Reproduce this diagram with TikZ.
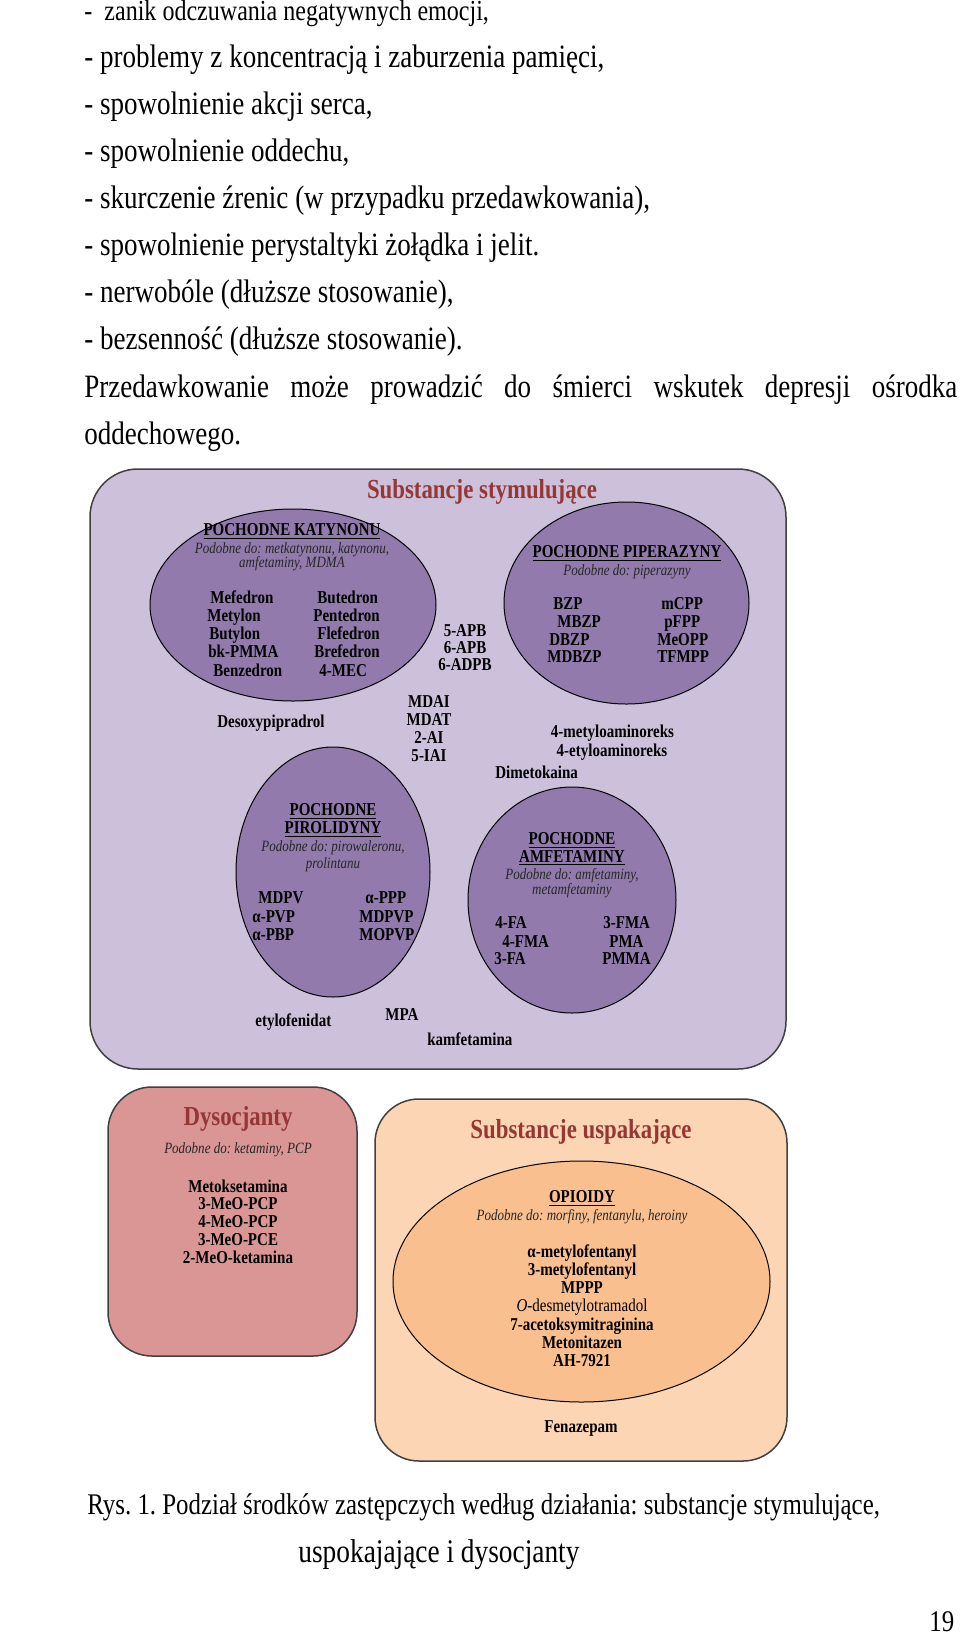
\documentclass[tikz,border=0pt]{standalone}
\usepackage{fontspec}
\setmainfont{Liberation Serif}[FakeStretch=0.829]
\usepackage{graphicx}
\usepackage{tikz}
\usetikzlibrary{shapes.geometric}
\usepackage{xcolor}
\definecolor{StimLilac}{HTML}{CCC0DA}
\definecolor{GroupPurple}{RGB}{146,123,172}
\definecolor{TitleRed}{HTML}{953735}
\definecolor{DissRose}{HTML}{DA9694}
\definecolor{SedPeach}{HTML}{FCD5B4}
\definecolor{OpioidOrange}{HTML}{FABF8F}
\tikzset{
  classbox/.style={draw=black!75, rounded corners=24pt, line width=0.75pt},
  group/.style={ellipse, draw=black, line width=0.5pt, fill=GroupPurple, inner sep=0pt},
  drug/.style={font=\fontsize{9.05}{11}\bfseries, inner sep=0pt},
  heading/.style={font=\fontsize{9.05}{11}\bfseries, inner sep=0pt, anchor=base},
  hint/.style={font=\fontsize{7.85}{9}\itshape, text=black!85, inner sep=0pt, anchor=base},
  classtitle/.style={font=\fontsize{13.75}{16}\bfseries, text=TitleRed, inner sep=0pt, anchor=base},
  bodytext/.style={font=\fontsize{16.3}{19}\selectfont, inner sep=0pt, anchor=base west}
}
\frenchspacing

\begin{document}
\begin{tikzpicture}[x=0.5pt, y=-0.5pt]
  \useasboundingbox (0,0) rectangle (960,1639);
  % text above the figure
  \node[bodytext, font=\fontsize{14.5}{17}\selectfont] (body0) at (84, 20.5) {-\ \ zanik odczuwania negatywnych emocji,};
  \foreach \line [count=\i] in {{- problemy z koncentracją i zaburzenia pamięci,}, {- spowolnienie akcji serca,},
      {- spowolnienie oddechu,}, {- skurczenie źrenic (w przypadku przedawkowania),},
      {- spowolnienie perystaltyki żołądka i jelit.}, {- nerwobóle (dłuższe stosowanie),},
      {- bezsenność (dłuższe stosowanie).}}
    \node[bodytext] (body\i) at (84, 20+47.1*\i) {\line};
  \node[bodytext] (overdose) at (84, 397.3) {\makebox[436.5pt][s]{Przedawkowanie może prowadzić do śmierci wskutek depresji ośrodka}};
  \node[bodytext] (overdose2) at (84, 444.4) {oddechowego.};

  % stimulants
  \node[classbox, fill=StimLilac, minimum width=348pt, minimum height=300pt] (stim) at (438,769) {};
  \node[classtitle] (stimtitle) at (482,498) {Substancje stymulujące};

  \node[group, minimum width=143pt, minimum height=96pt] (katynon) at (293,605) {};
  \node[heading] (kathead) at (292,535) {\underline{POCHODNE KATYNONU}};
  \node[hint] (kathint) at (292,553) {Podobne do: metkatynonu, katynonu,};
  \node[hint] (kathint2) at (292,567) {amfetaminy, MDMA};
  \foreach \drug/\dx/\by [count=\i] in {Mefedron/210/603, Metylon/207/621, Butylon/209/639,
      bk-PMMA/208/657, Benzedron/213/676}
    \node[drug, anchor=base west] (katL\i) at (\dx,\by) {\drug};
  \foreach \drug/\dx/\by [count=\i] in {Butedron/317/603, Pentedron/313/621, Flefedron/317/639,
      Brefedron/314/657, 4-MEC/319/676}
    \node[drug, anchor=base west] (katR\i) at (\dx,\by) {\drug};

  \foreach \drug/\by [count=\i] in {5-APB/636, 6-APB/653, 6-ADPB/670}
    \node[drug, anchor=base] (apb\i) at (465,\by) {\drug};

  \node[group, minimum width=122.5pt, minimum height=101pt] (piperazyna) at (626.5,603) {};
  \node[heading] (piphead) at (627,557) {\underline{POCHODNE PIPERAZYNY}};
  \node[hint] (piphint) at (627,575) {Podobne do: piperazyny};
  \foreach \drug/\dx/\by [count=\i] in {BZP/553/609, MBZP/557/627, DBZP/549/645, MDBZP/547/662}
    \node[drug, anchor=base west] (pipL\i) at (\dx,\by) {\drug};
  \foreach \drug/\dx/\by [count=\i] in {mCPP/661/609, pFPP/664/627, MeOPP/657/645, TFMPP/657/662}
    \node[drug, anchor=base west] (pipR\i) at (\dx,\by) {\drug};

  \node[drug, anchor=base west] (desoxy) at (217,727) {Desoxypipradrol};
  \foreach \drug/\by [count=\i] in {MDAI/707, MDAT/725, 2-AI/743, 5-IAI/761}
    \node[drug, anchor=base] (mdai\i) at (429,\by) {\drug};
  \node[drug, anchor=base] (aminorex1) at (612.5,737) {4-metyloaminoreks};
  \node[drug, anchor=base] (aminorex2) at (612,756) {4-etyloaminoreks};
  \node[drug, anchor=base west] (dimetokaina) at (495,778) {Dimetokaina};

  \node[group, minimum width=97pt, minimum height=125pt] (pirolidyna) at (333,872) {};
  \node[heading] (pirhead) at (333,815) {\underline{POCHODNE}};
  \node[heading] (pirhead2) at (333,833) {\underline{PIROLIDYNY}};
  \node[hint] (pirhint) at (333,851) {Podobne do: pirowaleronu,};
  \node[hint] (pirhint2) at (333,868) {prolintanu};
  \foreach \drug/\dx/\by [count=\i] in {MDPV/258/903, α-PVP/252/922, α-PBP/252/940}
    \node[drug, anchor=base west] (pirL\i) at (\dx,\by) {\drug};
  \foreach \drug/\dx/\by [count=\i] in {α-PPP/365/903, MDPVP/359/922, MOPVP/359/940}
    \node[drug, anchor=base west] (pirR\i) at (\dx,\by) {\drug};

  \node[group, minimum width=104pt, minimum height=113pt] (amfetamina) at (572,900) {};
  \node[heading] (amfhead) at (572,844) {\underline{POCHODNE}};
  \node[heading] (amfhead2) at (572,862) {\underline{AMFETAMINY}};
  \node[hint] (amfhint) at (572,879) {Podobne do: amfetaminy,};
  \node[hint] (amfhint2) at (572,894) {metamfetaminy};
  \foreach \drug/\dx/\by [count=\i] in {4-FA/495/928, 4-FMA/502/947, 3-FA/494/964}
    \node[drug, anchor=base west] (amfL\i) at (\dx,\by) {\drug};
  \foreach \drug/\dx/\by [count=\i] in {3-FMA/603/928, PMA/609/947, PMMA/602/964}
    \node[drug, anchor=base west] (amfR\i) at (\dx,\by) {\drug};

  \node[drug, anchor=base west] (etylofenidat) at (255,1026) {etylofenidat};
  \node[drug, anchor=base west] (mpa) at (385,1020) {MPA};
  \node[drug, anchor=base west] (kamfetamina) at (427,1045) {kamfetamina};

  % dissociatives
  \node[classbox, fill=DissRose, rounded corners=22pt, minimum width=124.5pt, minimum height=134.5pt] (diss) at (232.5,1221.5) {};
  \node[classtitle] (disstitle) at (238,1125) {Dysocjanty};
  \node[hint] (disshint) at (238,1153) {Podobne do: ketaminy, PCP};
  \foreach \drug [count=\i from 0] in {Metoksetamina, 3-MeO-PCP, 4-MeO-PCP, 3-MeO-PCE, 2-MeO-ketamina}
    \node[drug, anchor=base] (diss\i) at (238,1192+17.8*\i) {\drug};

  % sedatives
  \node[classbox, fill=SedPeach, rounded corners=22pt, minimum width=206pt, minimum height=181pt] (sed) at (581,1280) {};
  \node[classtitle] (sedtitle) at (581,1138) {Substancje uspakające};
  \node[group, fill=OpioidOrange, minimum width=188.5pt, minimum height=120.5pt] (opioidy) at (581.5,1281.5) {};
  \node[heading] (opihead) at (582,1202) {\underline{OPIOIDY}};
  \node[hint] (opihint) at (582,1220) {Podobne do: morfiny, fentanylu, heroiny};
  \foreach \drug [count=\i from 0] in {α-metylofentanyl, 3-metylofentanyl, MPPP,
      {\mdseries\textit{O}-desmetylotramadol}, 7-acetoksymitraginina, Metonitazen, AH-7921}
    \node[drug, anchor=base] (opi\i) at (582,1257+18.3*\i) {\drug};
  \node[drug, anchor=base] (fenazepam) at (581,1432) {Fenazepam};

  % caption
  \node[bodytext, font=\fontsize{15}{18}\selectfont] (caption) at (87,1514) {Rys. 1. Podział środków zastępczych według działania: substancje stymulujące,};
  \node[bodytext, font=\fontsize{16.5}{19}\selectfont] (caption2) at (298,1562) {uspokajające i dysocjanty};
  \node[bodytext, font=\fontsize{15}{18}\selectfont] (pagenum) at (929,1631) {19};
\end{tikzpicture}
\end{document}
